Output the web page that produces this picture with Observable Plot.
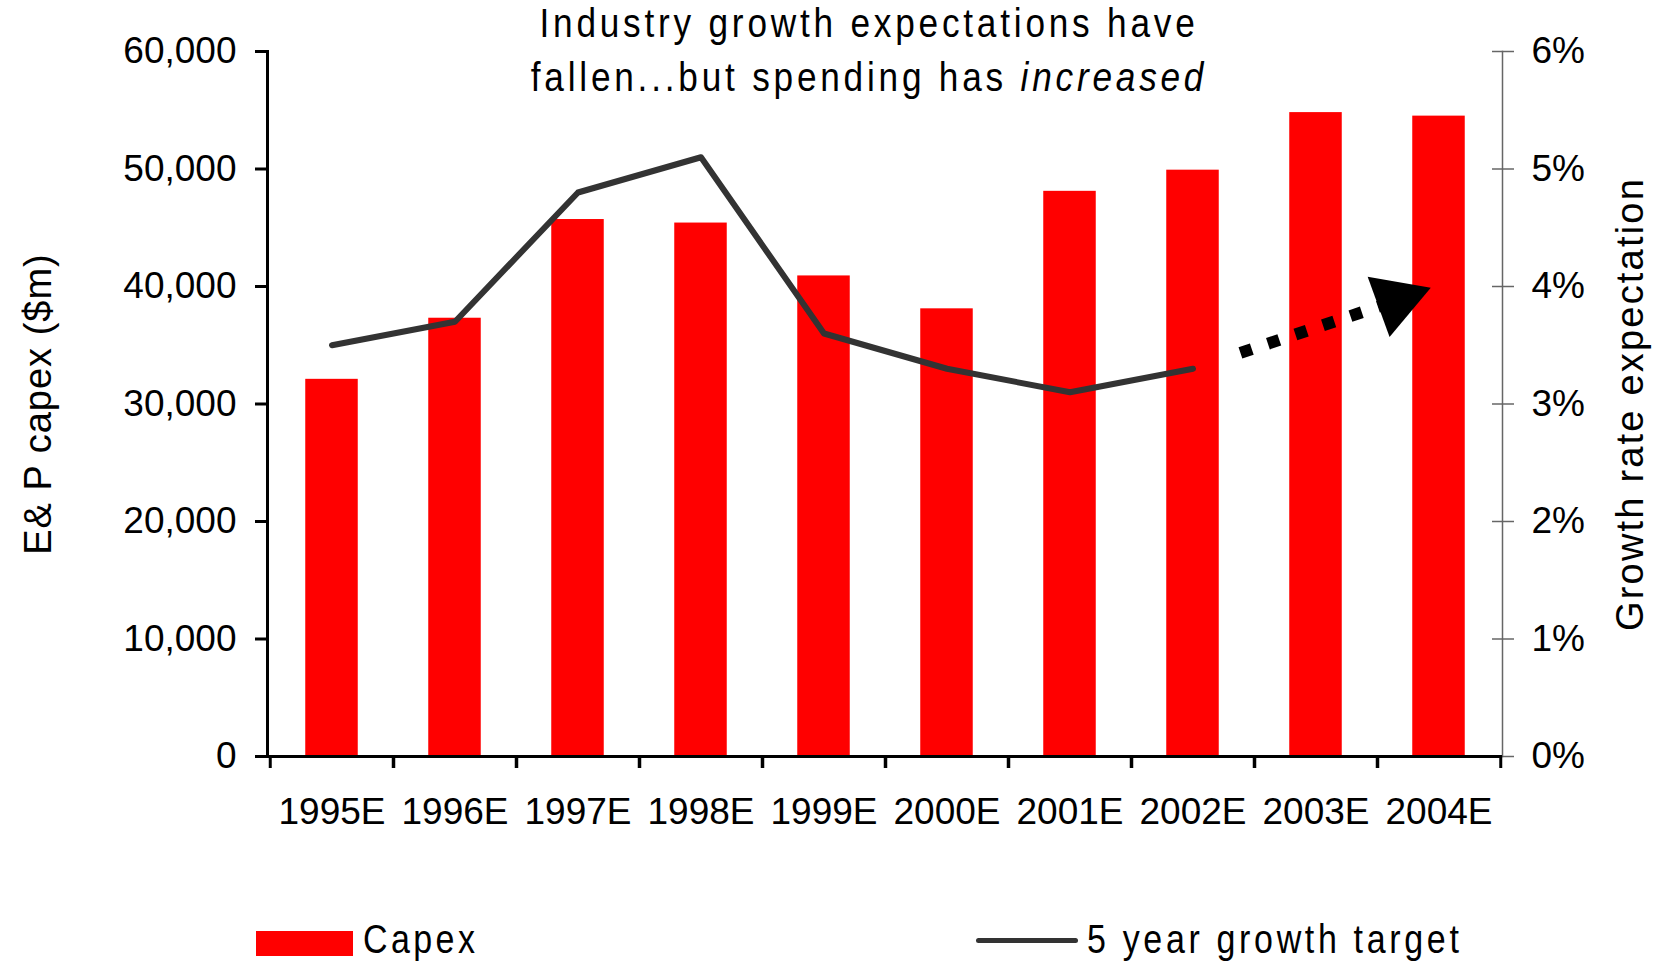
<!DOCTYPE html>
<html>
<head>
<meta charset="utf-8">
<script src="https://cdn.jsdelivr.net/npm/d3@7"></script>
<script src="https://cdn.jsdelivr.net/npm/@observablehq/plot@0.6"></script>
<style>
  body { margin: 0; background: #fff; }
  #wrap { position: relative; width: 1661px; height: 961px; overflow: hidden; font-family: "Liberation Sans", Arial, sans-serif; color: #000; }
  #chart { position: absolute; left: 0; top: 0; }
  #title { position: absolute; left: 69px; width: 1600px; top: -4px; text-align: center; font-family: "Liberation Sans", Arial, sans-serif; font-size: 40px; line-height: 54px; letter-spacing: 4.3px; transform: scaleX(0.88); transform-origin: 800px 0; }
  .lg { position: absolute; font-family: "Liberation Sans", Arial, sans-serif; font-size: 40px; line-height: 40px; white-space: nowrap; transform: scaleX(0.85); transform-origin: 0 0; }
</style>
</head>
<body>
<div id="wrap">
  <div id="chart"></div>
  <div id="title"></div>
  <div id="legend"></div>
</div>
<script>
// ---- data ----
const years = ["1995E", "1996E", "1997E", "1998E", "1999E", "2000E", "2001E", "2002E", "2003E", "2004E"];
const capex = [32100, 37300, 45700, 45400, 40900, 38100, 48100, 49900, 54800, 54500];
const growthYears = ["1995E", "1996E", "1997E", "1998E", "1999E", "2000E", "2001E", "2002E"];
const growthPct = [3.5, 3.7, 4.8, 5.1, 3.6, 3.3, 3.1, 3.3];
const arrowFromYear = "2002E", arrowFromPct = 3.3;
const arrowToYear = "2004E", arrowToPct = 4.0;
const leftTicks = [0, 10000, 20000, 30000, 40000, 50000, 60000];
const rightTicksPct = [0, 1, 2, 3, 4, 5, 6];
const titleLine1 = "Industry growth expectations have";
const titleLine2a = "fallen...but spending has ";
const titleLine2b = "increased";
const leftLabel = "E& P capex ($m)";
const rightLabel = "Growth rate expectation";
const legendBar = "Capex";
const legendLine = "5 year growth target";

// ---- layout ----
const W = 1661, H = 905, ML = 267, MR = 159, MT = 51, MB = 149;
const step = (W - ML - MR) / years.length;
const barWidth = 53;
const inset = (step - barWidth) / 2;
const pctToY = p => p * 10000; // right axis 0–6% aligned with left 0–60,000

const bars = years.map((y, i) => ({year: y, capex: capex[i]}));
const line = growthYears.map((y, i) => ({year: y, pct: growthPct[i]}));
const arrowSeg = [{x1: arrowFromYear, y1: arrowFromPct, x2: arrowToYear, y2: arrowToPct}];
const arrowHead = [{year: arrowToYear, pct: arrowToPct}];

const chart = Plot.plot({
  width: W, height: H,
  marginLeft: ML, marginRight: MR, marginTop: MT, marginBottom: MB,
  style: {fontFamily: '"Liberation Sans", Arial, sans-serif', fontSize: "37px", color: "#000", background: "#fff", overflow: "visible"},
  x: {domain: years, padding: 0, axis: null},
  y: {domain: [0, 60000], axis: null},
  marks: [
    Plot.barY(bars, {x: "year", y: "capex", fill: "#ff0000", insetLeft: inset, insetRight: inset}),
    // left axis
    Plot.frame({anchor: "left", stroke: "#000", strokeWidth: 3}),
    Plot.axisY({anchor: "left", ticks: leftTicks, tickFormat: d3.format(","), tickSize: 12, tickPadding: 19, strokeWidth: 3, label: null, fontSize: 37}),
    // right axis
    Plot.frame({anchor: "right", stroke: "#666", strokeWidth: 1.5}),
    Plot.axisY({anchor: "right", ticks: rightTicksPct.map(pctToY), tickFormat: d => d / 10000 + "%", tickSize: 11, tickPadding: 18, stroke: "#666", strokeWidth: 1.5, label: null, fontSize: 37}),
    Plot.axisY({anchor: "right", ticks: rightTicksPct.map(pctToY), tickFormat: () => "", tickSize: 11, dx: -11, stroke: "#666", strokeWidth: 1.5, label: null}),
    // bottom axis
    Plot.ruleY([0], {stroke: "#000", strokeWidth: 3}),
    Plot.axisX({anchor: "bottom", ticks: years, tickSize: 12, tickFormat: () => "", dx: -step / 2, strokeWidth: 3, label: null}),
    Plot.axisX({anchor: "bottom", ticks: years, tickSize: 12, tickFormat: () => "", dx: step / 2, strokeWidth: 3, label: null}),
    Plot.axisX({anchor: "bottom", ticks: years, tickSize: 0, tickPadding: 41, label: null, fontSize: 37}),
    // growth line
    Plot.lineY(line, {x: "year", y: d => pctToY(d.pct), stroke: "#333333", strokeWidth: 6, strokeLinecap: "round", strokeLinejoin: "round"}),
    // dotted arrow
    Plot.arrow(arrowSeg, {x1: "x1", y1: d => pctToY(d.y1), x2: "x2", y2: d => pctToY(d.y2), stroke: "#000", strokeWidth: 12, strokeDasharray: "12,17", strokeLinecap: "butt", headLength: 0, insetStart: 50, insetEnd: 45}),
    Plot.dot(arrowHead, {x: "year", y: d => pctToY(d.pct), symbol: "triangle", r: 23.8, rotate: 70, fill: "#000", stroke: "none", dx: -43, dy: 14}),
    // axis titles
    Plot.text([leftLabel], {text: d => d, frameAnchor: "left", dx: -229, rotate: -90, fontSize: 38, textAnchor: "middle", lineAnchor: "middle"}),
    Plot.text([rightLabel], {text: d => d, frameAnchor: "right", dx: 128, rotate: -90, fontSize: 38, textAnchor: "middle", lineAnchor: "middle"})
  ]
});
document.getElementById("chart").appendChild(chart);

// letter spacing for axis titles
d3.select(chart).selectAll("text").each(function () {
  const t = this.textContent;
  if (t === leftLabel) this.setAttribute("letter-spacing", "1");
  if (t === rightLabel) this.setAttribute("letter-spacing", "2.2");
});

// title
const title = document.getElementById("title");
const l1 = document.createElement("div"); l1.textContent = titleLine1;
const l2 = document.createElement("div"); l2.append(titleLine2a);
const it = document.createElement("i"); it.textContent = titleLine2b; l2.append(it);
title.append(l1, l2);

// legend
const legend = document.getElementById("legend");
function el(style, text, spacing) {
  const d = document.createElement("div");
  Object.assign(d.style, style);
  if (text) { d.className = "lg"; d.textContent = text; d.style.letterSpacing = spacing; }
  legend.appendChild(d);
}
el({position: "absolute", left: "256px", top: "931px", width: "97px", height: "25px", background: "#ff0000"});
el({left: "363px", top: "919px"}, legendBar, "4px");
el({left: "1087px", top: "919px"}, legendLine, "4.3px");
el({position: "absolute", left: "976px", top: "938px", width: "102px", height: "5px", background: "#333333", borderRadius: "3px"});
</script>
</body>
</html>
